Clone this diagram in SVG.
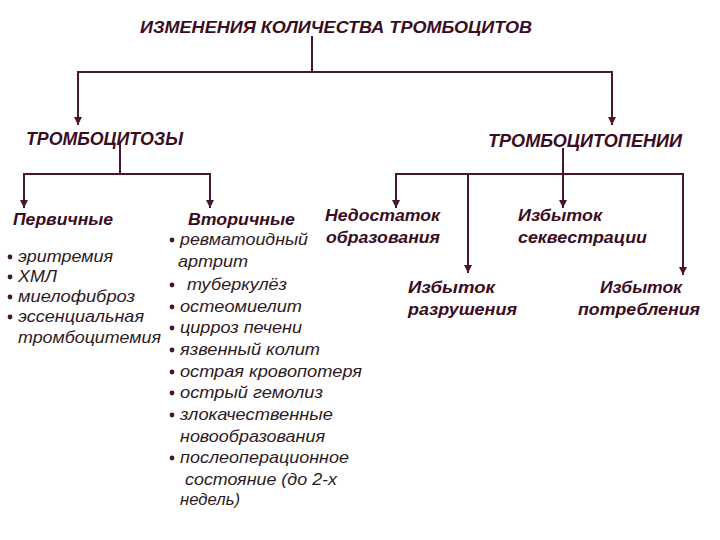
<svg xmlns="http://www.w3.org/2000/svg" width="720" height="540" viewBox="0 0 720 540">
<defs>
<style>
.ln{stroke:#4a1530;stroke-width:2;fill:none}
.h{font-family:"Liberation Sans",Arial,sans-serif;font-weight:bold;font-style:italic;fill:#3a0d22}
.t{font-family:"Liberation Sans",Arial,sans-serif;font-style:italic;font-size:17px;fill:#2e1a24}
.b{fill:#4a1530}
</style>
<marker id="ah" markerUnits="userSpaceOnUse" markerWidth="8" markerHeight="9" refX="8" refY="4" orient="auto">
<path d="M0,0 L8,4 L0,8 Z" fill="#4a1530"/>
</marker>
</defs>
<rect width="720" height="540" fill="#ffffff"/>
<g id="connectors">
<line class="ln" x1="312" y1="36" x2="312" y2="72"/>
<line class="ln" x1="77" y1="72" x2="613" y2="72"/>
<line class="ln" x1="78" y1="72" x2="78" y2="125" marker-end="url(#ah)"/>
<line class="ln" x1="612" y1="72" x2="612" y2="125" marker-end="url(#ah)"/>
<line class="ln" x1="120" y1="142" x2="120" y2="174"/>
<line class="ln" x1="23" y1="174" x2="211" y2="174"/>
<line class="ln" x1="24" y1="174" x2="24" y2="208" marker-end="url(#ah)"/>
<line class="ln" x1="210" y1="174" x2="210" y2="208" marker-end="url(#ah)"/>
<line class="ln" x1="563" y1="148" x2="563" y2="208" marker-end="url(#ah)"/>
<line class="ln" x1="395" y1="174" x2="684" y2="174"/>
<line class="ln" x1="396" y1="174" x2="396" y2="208" marker-end="url(#ah)"/>
<line class="ln" x1="468" y1="174" x2="468" y2="273" marker-end="url(#ah)"/>
<line class="ln" x1="683" y1="174" x2="683" y2="275" marker-end="url(#ah)"/>
</g>
<g id="title"><text class="h" x="140" y="33" font-size="17" textLength="392" lengthAdjust="spacingAndGlyphs">ИЗМЕНЕНИЯ КОЛИЧЕСТВА ТРОМБОЦИТОВ</text></g>
<g id="thrombocytosis"><text class="h" x="26" y="145" font-size="18" textLength="157" lengthAdjust="spacingAndGlyphs">ТРОМБОЦИТОЗЫ</text></g>
<g id="thrombocytopenia"><text class="h" x="488" y="147" font-size="18" textLength="194" lengthAdjust="spacingAndGlyphs">ТРОМБОЦИТОПЕНИИ</text></g>
<g id="primary">
<text class="h" x="13" y="225" font-size="17" textLength="100" lengthAdjust="spacingAndGlyphs">Первичные</text>
<circle class="b" cx="10" cy="257" r="2.4"/>
<text class="t" x="18" y="262" textLength="95" lengthAdjust="spacingAndGlyphs">эритремия</text>
<circle class="b" cx="10" cy="277" r="2.4"/>
<text class="t" x="18" y="282" textLength="39" lengthAdjust="spacingAndGlyphs">ХМЛ</text>
<circle class="b" cx="10" cy="297" r="2.4"/>
<text class="t" x="18" y="302" textLength="117" lengthAdjust="spacingAndGlyphs">миелофиброз</text>
<circle class="b" cx="10" cy="317" r="2.4"/>
<text class="t" x="18" y="322" textLength="126" lengthAdjust="spacingAndGlyphs">эссенциальная</text>
<text class="t" x="18" y="343" textLength="143" lengthAdjust="spacingAndGlyphs">тромбоцитемия</text>
</g>
<g id="secondary">
<text class="h" x="188" y="225" font-size="17" textLength="107" lengthAdjust="spacingAndGlyphs">Вторичные</text>
<circle class="b" cx="172" cy="240" r="2.4"/>
<text class="t" x="180" y="245" textLength="128" lengthAdjust="spacingAndGlyphs">ревматоидный</text>
<text class="t" x="178" y="267" textLength="70" lengthAdjust="spacingAndGlyphs">артрит</text>
<circle class="b" cx="172" cy="285" r="2.4"/>
<text class="t" x="187" y="290" textLength="100" lengthAdjust="spacingAndGlyphs">туберкулёз</text>
<circle class="b" cx="172" cy="307" r="2.4"/>
<text class="t" x="180" y="312" textLength="122" lengthAdjust="spacingAndGlyphs">остеомиелит</text>
<circle class="b" cx="172" cy="328" r="2.4"/>
<text class="t" x="180" y="333" textLength="122" lengthAdjust="spacingAndGlyphs">цирроз печени</text>
<circle class="b" cx="172" cy="350" r="2.4"/>
<text class="t" x="180" y="355" textLength="140" lengthAdjust="spacingAndGlyphs">язвенный колит</text>
<circle class="b" cx="172" cy="372" r="2.4"/>
<text class="t" x="180" y="377" textLength="182" lengthAdjust="spacingAndGlyphs">острая кровопотеря</text>
<circle class="b" cx="172" cy="393" r="2.4"/>
<text class="t" x="180" y="398" textLength="143" lengthAdjust="spacingAndGlyphs">острый гемолиз</text>
<circle class="b" cx="172" cy="415" r="2.4"/>
<text class="t" x="180" y="420" textLength="153" lengthAdjust="spacingAndGlyphs">злокачественные</text>
<text class="t" x="180" y="442" textLength="145" lengthAdjust="spacingAndGlyphs">новообразования</text>
<circle class="b" cx="172" cy="458" r="2.4"/>
<text class="t" x="180" y="463" textLength="169" lengthAdjust="spacingAndGlyphs">послеоперационное</text>
<text class="t" x="185" y="485" textLength="152" lengthAdjust="spacingAndGlyphs">состояние (до 2-х</text>
<text class="t" x="180" y="505" textLength="60" lengthAdjust="spacingAndGlyphs">недель)</text>
</g>
<g id="formation">
<text class="h" x="325" y="221" font-size="17" textLength="115" lengthAdjust="spacingAndGlyphs">Недостаток</text>
<text class="h" x="326" y="243" font-size="17" textLength="114" lengthAdjust="spacingAndGlyphs">образования</text>
</g>
<g id="sequestration">
<text class="h" x="518" y="221" font-size="17" textLength="84" lengthAdjust="spacingAndGlyphs">Избыток</text>
<text class="h" x="518" y="243" font-size="17" textLength="129" lengthAdjust="spacingAndGlyphs">секвестрации</text>
</g>
<g id="destruction">
<text class="h" x="408" y="293" font-size="17" textLength="87" lengthAdjust="spacingAndGlyphs">Избыток</text>
<text class="h" x="408" y="315" font-size="17" textLength="109" lengthAdjust="spacingAndGlyphs">разрушения</text>
</g>
<g id="consumption">
<text class="h" x="600" y="293" font-size="17" textLength="82" lengthAdjust="spacingAndGlyphs">Избыток</text>
<text class="h" x="578" y="315" font-size="17" textLength="122" lengthAdjust="spacingAndGlyphs">потребления</text>
</g>
</svg>
